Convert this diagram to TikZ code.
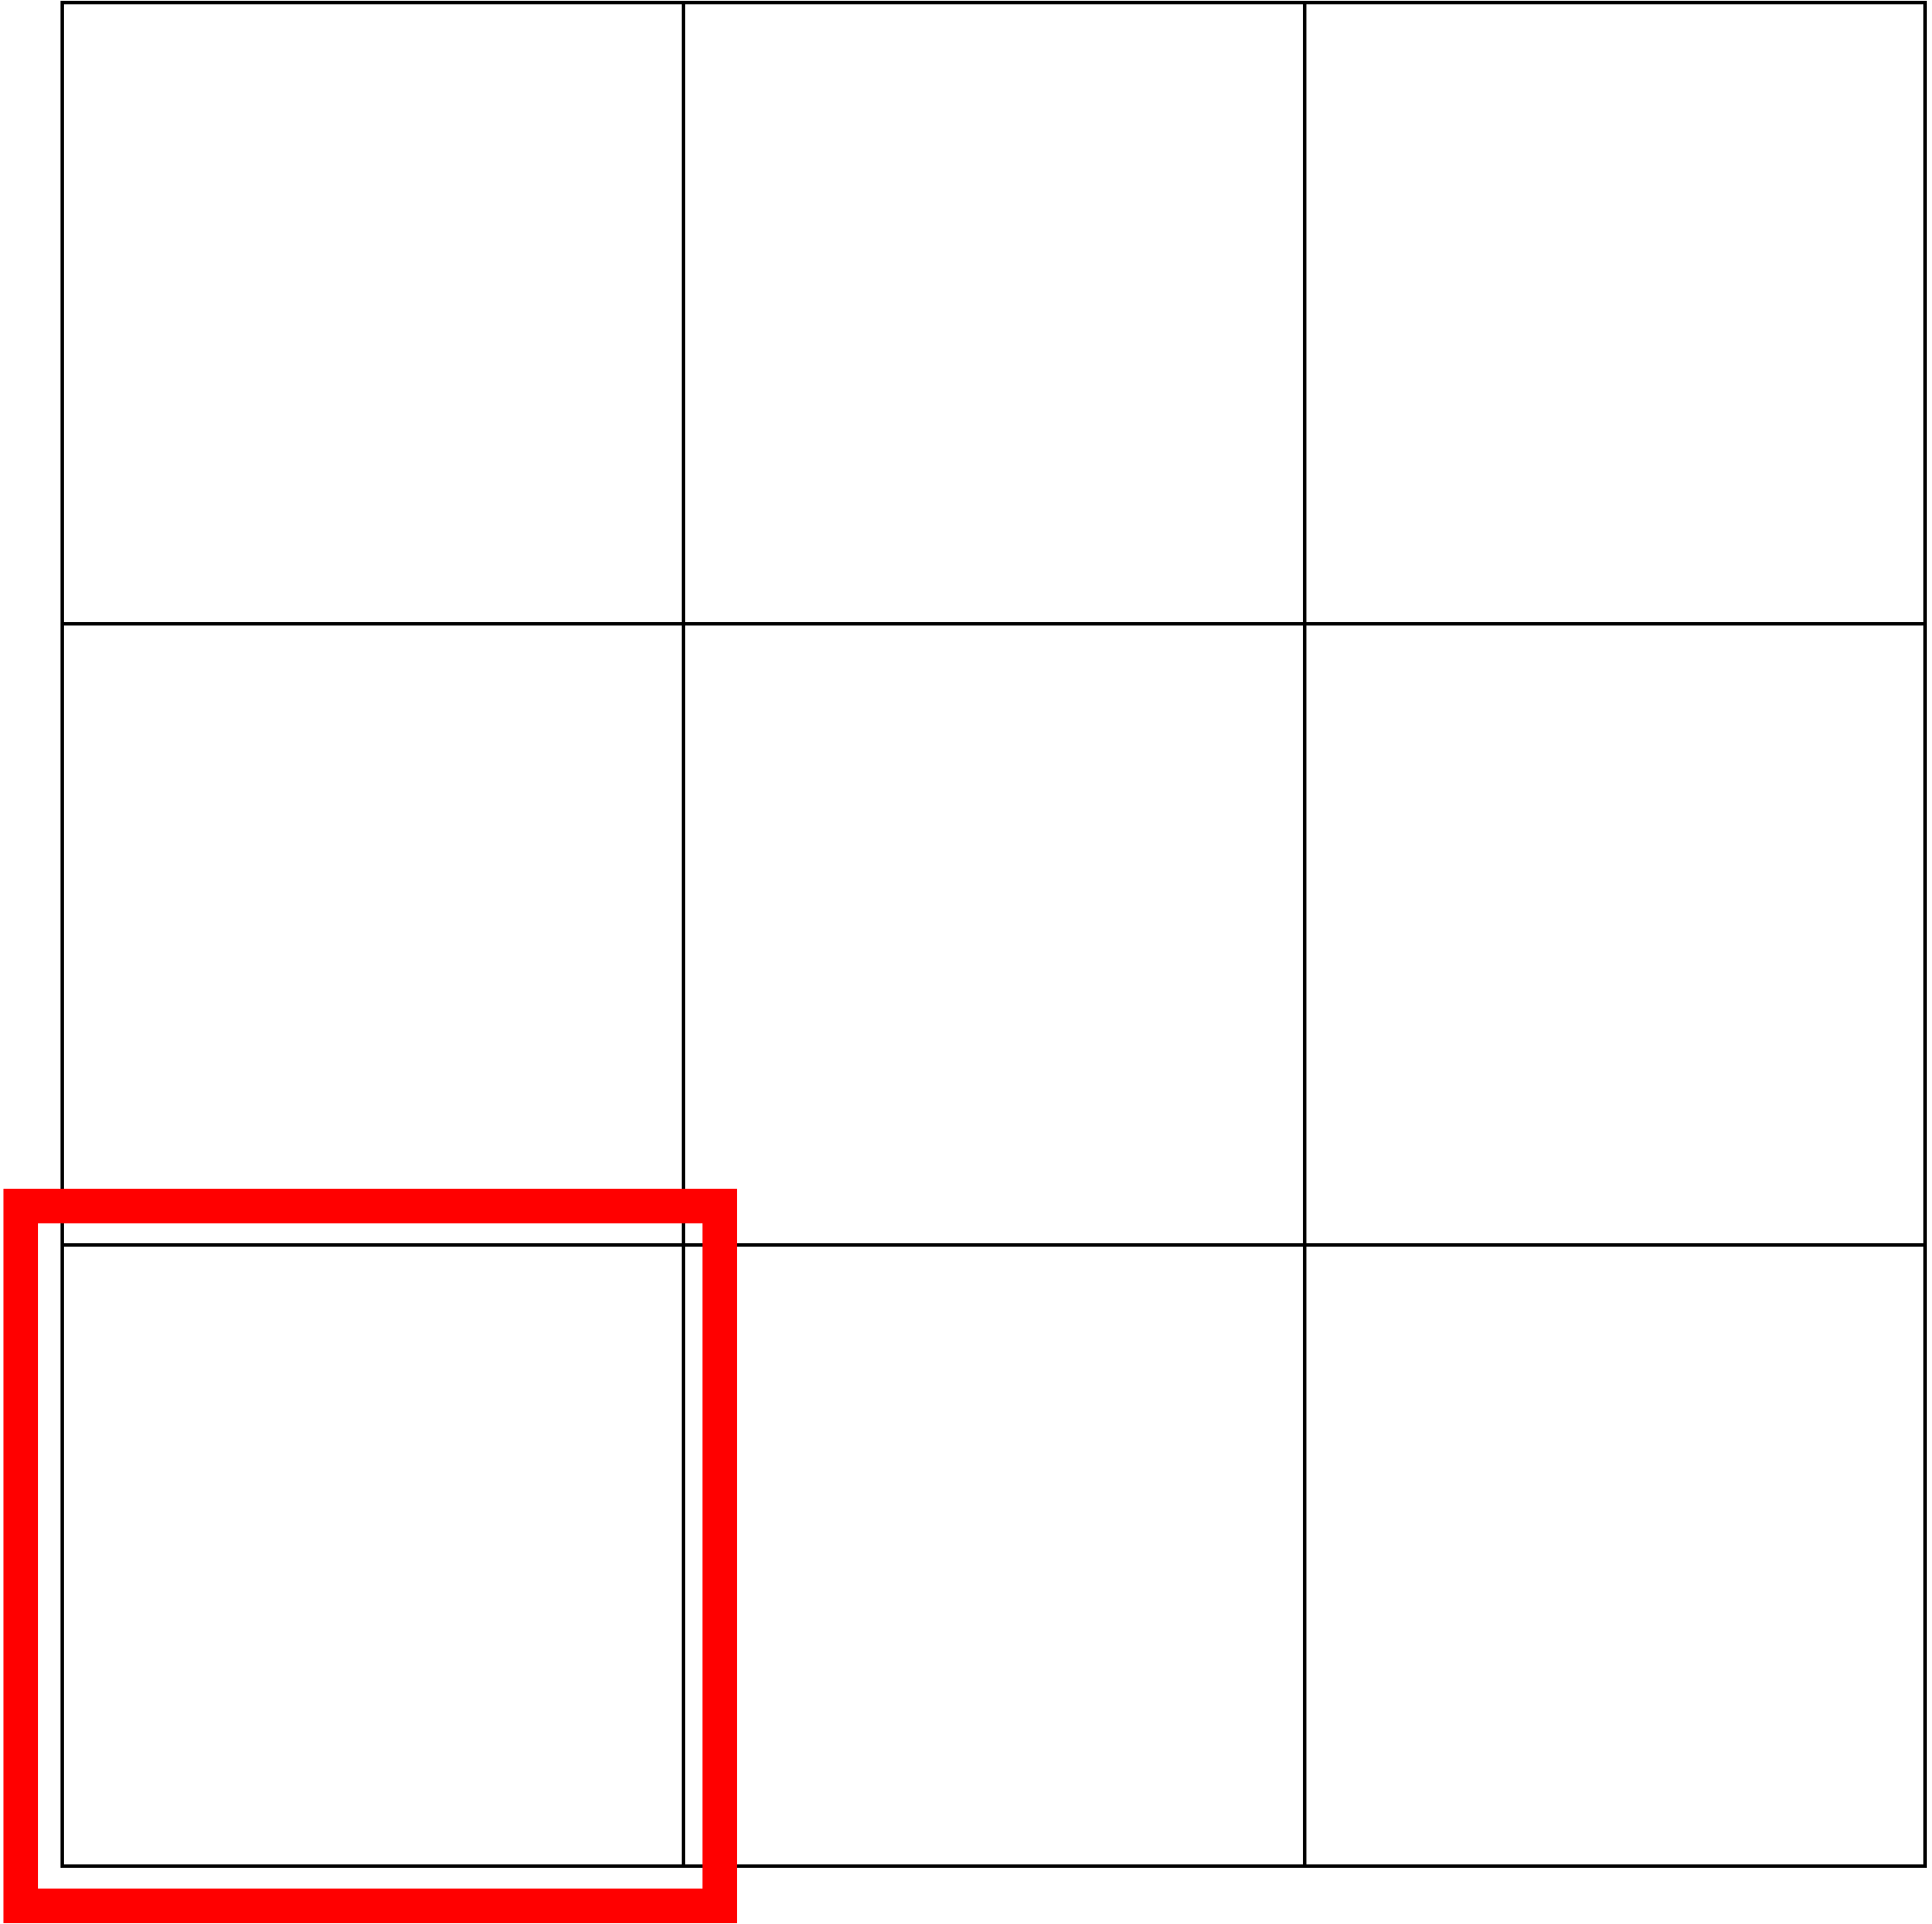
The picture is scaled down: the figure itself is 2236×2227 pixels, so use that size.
\documentclass[tikz,border=0pt]{standalone}
\begin{document}
\begin{tikzpicture}[x=0.01cm,y=-0.01cm,
  gridline/.style={draw=black,line width=0.04cm},
  highlight/.style={draw=red,line width=0.4cm}]
\useasboundingbox (0,0) rectangle (2236,2227);
\draw[gridline] (72,3) rectangle (2228,2160);
\foreach \x in {791,1510} \draw[gridline] (\x,3) -- (\x,2160);
\foreach \y in {722,1441} \draw[gridline] (72,\y) -- (2228,\y);
\draw[highlight] (24,1396) rectangle (833,2206);
\end{tikzpicture}
\end{document}
